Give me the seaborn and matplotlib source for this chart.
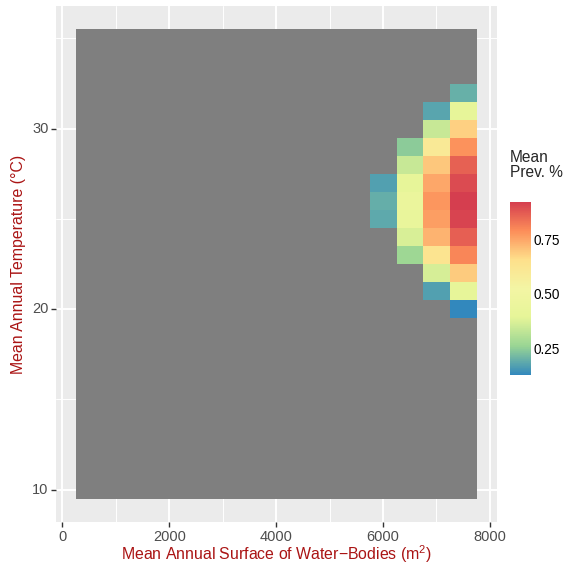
import numpy as np
import pandas as pd
import matplotlib
matplotlib.use("Agg")
import matplotlib.pyplot as plt
from matplotlib.colors import LinearSegmentedColormap
import seaborn as sns

# grid of bins (centres)
water_bins = [507, 1007, 1507, 2007, 2507, 3007, 3507, 4007, 4507,
              5007, 5507, 6007, 6507, 7007, 7507]
temp_bins = list(range(35, 9, -1))  # 35 at the top down to 10
bin_w = 500

# the four columns that carry a value, rows 32 down to 20
rows = [32, 31, 30, 29, 28, 27, 26, 25, 24, 23, 22, 21, 20]
n = np.nan
prev_6007 = [n, n, n, n, n, 0.17, 0.195, 0.185, n, n, n, n, n]
prev_6507 = [n, n, n, 0.245, 0.34, 0.40, 0.44, 0.42, 0.368, 0.27, n, n, n]
prev_7007 = [n, 0.178, 0.34, 0.60, 0.695, 0.745, 0.775, 0.76, 0.726, 0.63, 0.365, 0.17, n]
prev_7507 = [0.197, 0.40, 0.68, 0.78, 0.86, 0.897, 0.921, 0.91, 0.865, 0.80, 0.69, 0.40, 0.128]

x_ticks = [0, 2000, 4000, 6000, 8000]
x_minor = [1000, 3000, 5000, 7000]
y_ticks = [10, 20, 30]
y_minor = [15, 25, 35]

#  build the table: rows = temperature, columns = water surface
grid = pd.DataFrame(np.nan, index=temp_bins, columns=water_bins)
for col, vals in zip([6007, 6507, 7007, 7507], [prev_6007, prev_6507, prev_7007, prev_7507]):
    for r, v in zip(rows, vals):
        grid.loc[r, col] = v

#  ggplot-like look
sns.set_theme(style="darkgrid", rc={
    "axes.facecolor": "#EBEBEB",
    "grid.color": "white",
    "axes.edgecolor": "none",
})
plt.rcParams["font.family"] = ["Liberation Sans", "DejaVu Sans"]

#  reversed spectral, middle toned down a little like the reference bar
spectral = ["#3288BD", "#99D594", "#E6F598", "#F3F5A4", "#FEE08B", "#FC8D59", "#D53E4F"]
cmap = LinearSegmentedColormap.from_list("spec", spectral)
cmap.set_bad("#7F7F7F")

fig = plt.figure(figsize=(5.65, 5.66), dpi=100)
ax = fig.add_axes([56 / 565, 44 / 566, 441 / 565, 516 / 566])
cax = fig.add_axes([510 / 565, 191 / 566, 21 / 565, 173.3 / 566])

sns.heatmap(grid, ax=ax, cmap=cmap, cbar_ax=cax, linewidths=0)


#  data value -> heatmap cell coordinate
def xpos(v):
    return (v - (water_bins[0] - bin_w / 2)) / bin_w


def ypos(v):
    return (temp_bins[0] + 0.5) - v


nx, ny = len(water_bins), len(temp_bins)
ax.set_xlim(-0.05 * nx, 1.05 * nx)
ax.set_ylim(1.05 * ny, -0.05 * ny)

ax.set_xticks([xpos(v) for v in x_ticks])
ax.set_xticklabels([str(v) for v in x_ticks], rotation=0)
ax.set_xticks([xpos(v) for v in x_minor], minor=True)
ax.set_yticks([ypos(v) for v in y_ticks])
ax.set_yticklabels([str(v) for v in y_ticks], rotation=0)
ax.set_yticks([ypos(v) for v in y_minor], minor=True)

ax.set_axisbelow(True)
ax.grid(True, which="major", color="white", linewidth=1.4)
ax.grid(True, which="minor", color="white", linewidth=0.7)
ax.tick_params(which="major", length=3.5, width=1, color="#333333",
               labelsize=10.5, labelcolor="#4D4D4D", pad=2, bottom=True, left=True)
ax.tick_params(which="minor", length=0)
for s in ax.spines.values():
    s.set_visible(False)

title_color = "#AA1414"
ax.set_xlabel("Mean Annual Surface of Water\u2212Bodies (m$^{\\mathregular{2}}$)",
              fontsize=11.4, color=title_color)
ax.set_ylabel("Mean Annual Temperature (\u00b0C)", fontsize=11.4, color=title_color)
ax.xaxis.set_label_coords(0.5, -0.042)
ax.yaxis.set_label_coords(-0.068, 0.5)

#  colorbar like a ggplot legend
cbar = ax.collections[0].colorbar
cbar.outline.set_visible(False)
cbar.set_ticks([0.25, 0.50, 0.75])
cbar.set_ticklabels(["0.25", "0.50", "0.75"])
cax.tick_params(axis="y", which="major", direction="in", length=4, width=1,
                color="white", left=True, right=True, labelleft=False,
                labelright=True, labelsize=9.8, labelcolor="black", pad=1.5)
cax.tick_params(axis="y", which="minor", length=0)
fig.text(510 / 565, 1 - 150 / 566, "Mean\nPrev. %", fontsize=11.2, va="top",
         ha="left", linespacing=1.0)

fig.savefig("out.png", dpi=100)
